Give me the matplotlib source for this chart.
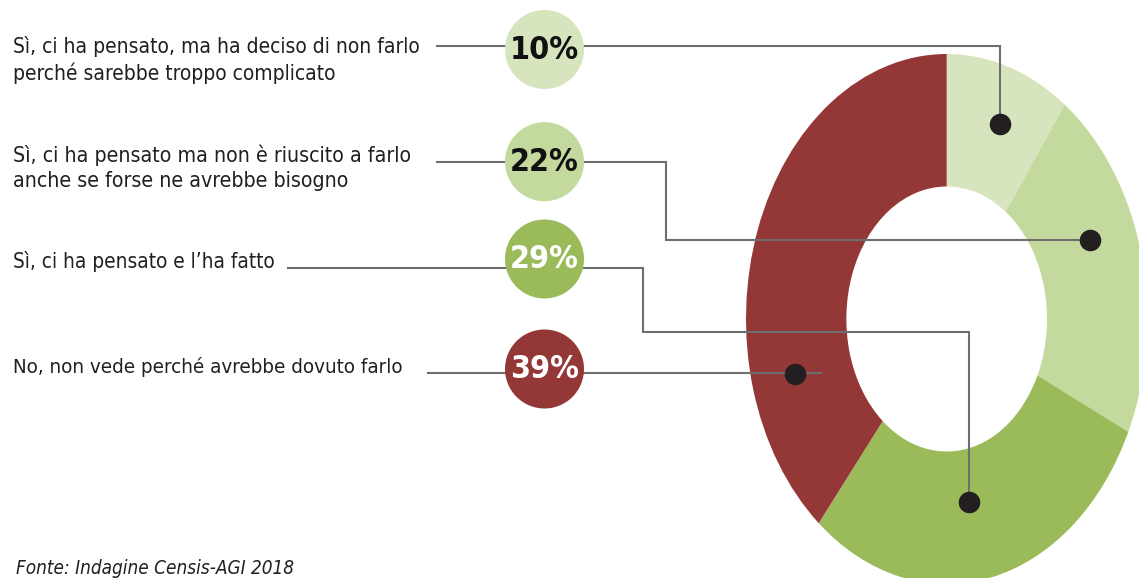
import matplotlib
matplotlib.use("Agg")
import matplotlib.pyplot as plt
from matplotlib.patches import Circle
from matplotlib import font_manager
import numpy as np

# dati
etichette = [
    "Sì, ci ha pensato, ma ha deciso di non farlo\nperché sarebbe troppo complicato",
    "Sì, ci ha pensato ma non è riuscito a farlo\nanche se forse ne avrebbe bisogno",
    "Sì, ci ha pensato e l’ha fatto",
    "No, non vede perché avrebbe dovuto farlo",
]
valori = [10, 22, 29, 39]
perc_labels = ["10%", "22%", "29%", "39%"]
colori = ["#d7e5bf", "#c4d99d", "#9bbb5a", "#943737"]
colori_testo = ["#111111", "#111111", "white", "white"]
fonte = "Fonte: Indagine Censis-AGI 2018"

W, H = 1139, 578

# font stretto: cerco quello che c'è
nomi = {(f.name, str(f.stretch)) for f in font_manager.fontManager.ttflist}
famiglie = {n for n, s in nomi}
stretch = "normal"
if "Liberation Sans Narrow" in famiglie:
    FONT = ["Liberation Sans Narrow", "DejaVu Sans"]
elif any(n == "DejaVu Sans" and s in ("condensed", "semi-condensed", "75", "87") for n, s in nomi):
    FONT = ["DejaVu Sans"]
    stretch = "condensed"
else:
    FONT = ["Roboto", "DejaVu Sans"]

# geometria della ciambella (pixel), allungata in verticale
PIE_CX, PIE_CY = 946.7, 319
PIE_RX, PIE_RY = 200.7, 265

fig = plt.figure(figsize=(W / 100, H / 100), dpi=100)

ax_pie = fig.add_axes([(PIE_CX - PIE_RX) / W, (H - PIE_CY - PIE_RY) / H,
                       2 * PIE_RX / W, 2 * PIE_RY / H])
ax_pie.pie(valori, colors=colori, startangle=90, counterclock=False, radius=1,
           wedgeprops=dict(width=0.5, linewidth=0))
ax_pie.set_xlim(-1, 1)
ax_pie.set_ylim(-1, 1)
ax_pie.set_aspect("auto")
ax_pie.axis("off")

# livello sopra, in pixel
ax = fig.add_axes([0, 0, 1, 1], facecolor="none")
ax.set_xlim(0, W)
ax.set_ylim(H, 0)
ax.axis("off")

# posizione dei pallini sulla ciambella (angolo, raggio relativo)
dot_pos = [(70.1, 0.781), (22.7, 0.774), (-80.7, 0.698), (195.3, 0.786)]
dots = []
for ang, r in dot_pos:
    a = np.deg2rad(ang)
    dots.append((PIE_CX + r * PIE_RX * np.cos(a), PIE_CY - r * PIE_RY * np.sin(a)))

circ_x, circ_r = 544.5, 39.5
circ_y = [49.5, 161.7, 259, 369]
linea_y = [46, 161.7, 267.7, 373]
linea_x0 = [437, 437, 288, 428]
testo_y = [60, 168, 262, 367]

routes = [
    [(linea_x0[0], linea_y[0]), (dots[0][0], linea_y[0]), dots[0]],
    [(linea_x0[1], linea_y[1]), (666, linea_y[1]), (666, dots[1][1]), dots[1]],
    [(linea_x0[2], linea_y[2]), (643.3, linea_y[2]), (643.3, 332.3),
     (dots[2][0], 332.3), dots[2]],
    [(linea_x0[3], linea_y[3]), (821, linea_y[3])],
]

fig.canvas.draw()
renderer = fig.canvas.get_renderer()


def fit_text(x, y, s, target_w, size, **kw):
    # adatto la dimensione alla larghezza
    t = ax.text(x, y, s, fontsize=size, family=FONT, fontstretch=stretch, **kw)
    w = t.get_window_extent(renderer).width
    t.set_fontsize(size * target_w / w)
    return t


# larghezze della riga più lunga di ogni etichetta (pixel)
larghezze = [407, 400, 263, 393]

for i in range(4):
    xs = [p[0] for p in routes[i]]
    ys = [p[1] for p in routes[i]]
    ax.plot(xs, ys, color="#6e6e6e", lw=1.5, solid_joinstyle="miter", zorder=2)
    ax.plot(dots[i][0], dots[i][1], "o", ms=14.5, color="#231f20", zorder=3)
    ax.add_patch(Circle((circ_x, circ_y[i]), circ_r, color=colori[i], lw=0, zorder=4))
    fit_text(circ_x, circ_y[i] + 1, perc_labels[i], 69, 26, ha="center", va="center",
             fontweight="heavy", color=colori_testo[i], zorder=5)
    riga = etichette[i].split("\n")[0]
    t = fit_text(13, testo_y[i], riga, larghezze[i], 16)
    size = t.get_fontsize()
    t.remove()
    ax.text(13, testo_y[i], etichette[i], ha="left", va="center", fontsize=size,
            color="#231f20", family=FONT, fontstretch=stretch, linespacing=1.3)

fit_text(16, 574, fonte, 280, 16, ha="left", va="baseline", style="italic",
         color="#231f20")

fig.savefig("out.png", dpi=100)
